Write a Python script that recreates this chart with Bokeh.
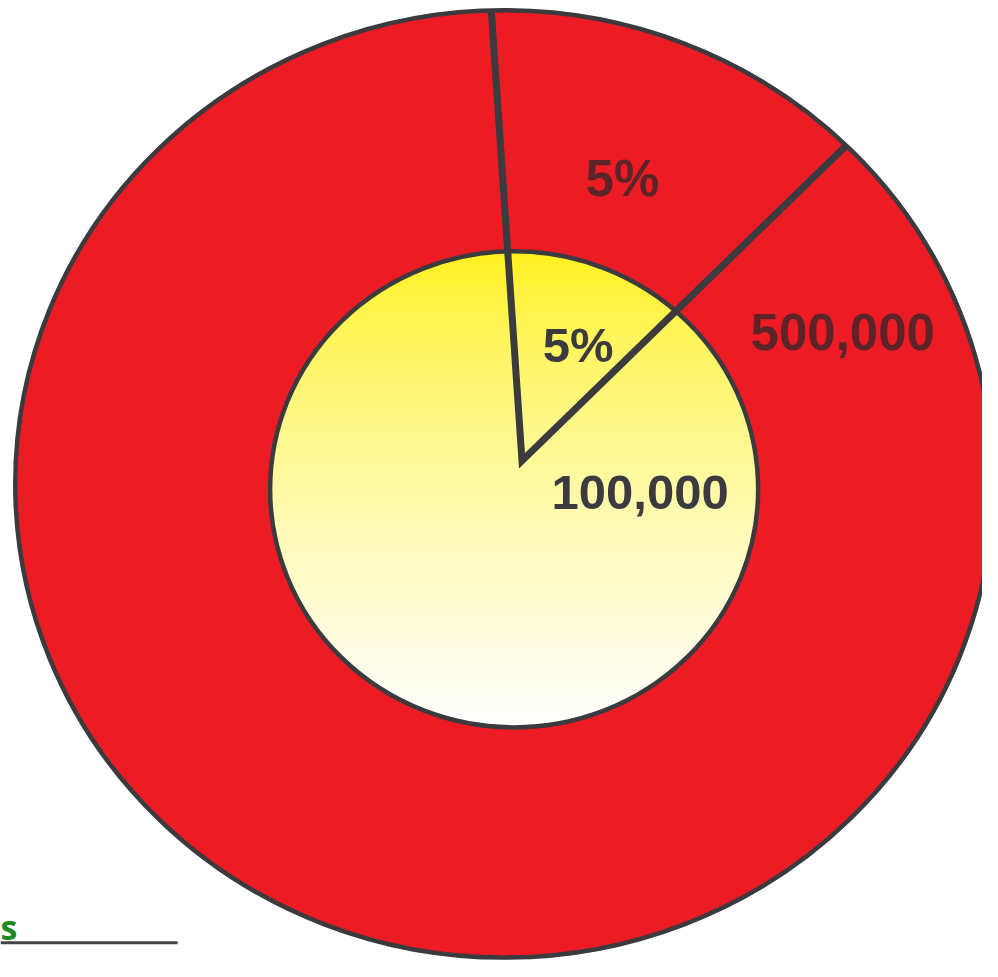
import numpy as np
from bokeh.plotting import figure
from bokeh.models import Range1d
from bokeh.embed import file_html
from bokeh.resources import INLINE
from bokeh.core.properties import value

# ---------------- data ----------------
outer_labels = ["5%", "500,000"]      # labels in the red ring
inner_labels = ["5%", "100,000"]      # labels in the yellow centre
slice_share_pct = [13.8, 86.2]        # share of the circle the highlighted slice covers as drawn
slice_start_deg = -3.9                # first separator, degrees clockwise from 12 o'clock
footer_text = ["s"]

# ---------------- layout / style ----------------
W, H = 982, 961
REF_W, REF_H = 998, 977
RED = "#ED1C24"
OUTLINE = "#3a3a3f"

p = figure(width=W, height=H, x_range=Range1d(0, REF_W), y_range=Range1d(REF_H, 0),
           output_backend="svg", toolbar_location=None, min_border=0,
           x_axis_location=None, y_axis_location=None)
p.grid.visible = False
p.outline_line_color = None
p.background_fill_color = "white"
p.border_fill_color = "white"

# outer ring (full red disc)
ocx, ocy, orx, ory = 512.0, 491.5, 497.0, 481.5
p.ellipse(x=[ocx], y=[ocy], width=[2 * orx], height=[2 * ory],
          fill_color=RED, line_color=OUTLINE, line_width=4.5)

# inner disc with vertical yellow -> white gradient built from thin bands
icx, icy, irx, iry = 522.0, 497.0, 248.0, 242.0
N = 160
ys = np.linspace(icy - iry, icy + iry, N + 1)
xs_list, ys_list, cols = [], [], []
top = np.array([255, 240, 20], dtype=float)
bot = np.array([255, 255, 255], dtype=float)
for i in range(N):
    y0, y1 = ys[i], min(ys[i + 1] + 1.0, icy + iry)
    yy = np.linspace(y0, y1, 4)
    half = irx * np.sqrt(np.clip(1 - ((yy - icy) / iry) ** 2, 0, 1))
    xs_list.append(list(icx - half) + list(icx + half[::-1]))
    ys_list.append(list(yy) + list(yy[::-1]))
    t = ((y0 + y1) / 2 - (icy - iry)) / (2 * iry)
    c = top + (bot - top) * (t ** 0.7)
    cols.append("#%02x%02x%02x" % tuple(int(round(v)) for v in c))
p.patches(xs=xs_list, ys=ys_list, fill_color=cols, line_color=None)
p.ellipse(x=[icx], y=[icy], width=[2 * irx], height=[2 * iry],
          fill_color=None, line_color=OUTLINE, line_width=4.5)

# separators of the highlighted slice, from a common vertex out to the outer edge
vx, vy = 530.0, 468.0
bounds = [slice_start_deg, slice_start_deg + slice_share_pct[0] * 3.6]


def edge_point(theta_deg):
    th = np.radians(theta_deg)
    dx, dy = np.sin(th), -np.cos(th)
    a = (dx / orx) ** 2 + (dy / ory) ** 2
    b = 2 * ((vx - ocx) * dx / orx ** 2 + (vy - ocy) * dy / ory ** 2)
    c = ((vx - ocx) / orx) ** 2 + ((vy - ocy) / ory) ** 2 - 1
    t = (-b + np.sqrt(b * b - 4 * a * c)) / (2 * a)
    return vx + t * dx, vy + t * dy


e1 = edge_point(bounds[0])
e2 = edge_point(bounds[1])
p.line(x=[e1[0], vx, e2[0]], y=[e1[1], vy, e2[1]], line_color=OUTLINE,
       line_width=7, line_join="miter", line_cap="butt")

# labels
FONT = value("Liberation Sans")
p.text(x=[632, 856], y=[181, 337], text=outer_labels, text_font=FONT,
       text_font_style="bold", text_font_size="51px", text_color="#5c2428",
       text_align="center", text_baseline="alphabetic")
p.text(x=[587, 650], y=[350, 500], text=inner_labels, text_font=FONT,
       text_font_style="bold", text_font_size="49px", text_color=OUTLINE,
       text_align="center", text_baseline="alphabetic")

# footer fragment
p.text(x=[0], y=[942], text=footer_text, text_font=value("Open Sans"),
       text_font_style="bold", text_font_size="34px", text_color="#1f8a1f",
       text_align="left", text_baseline="alphabetic")
p.line(x=[0, 180], y=[958, 958], line_color="#444444", line_width=3)

open("out.html", "w").write(file_html(p, INLINE))
